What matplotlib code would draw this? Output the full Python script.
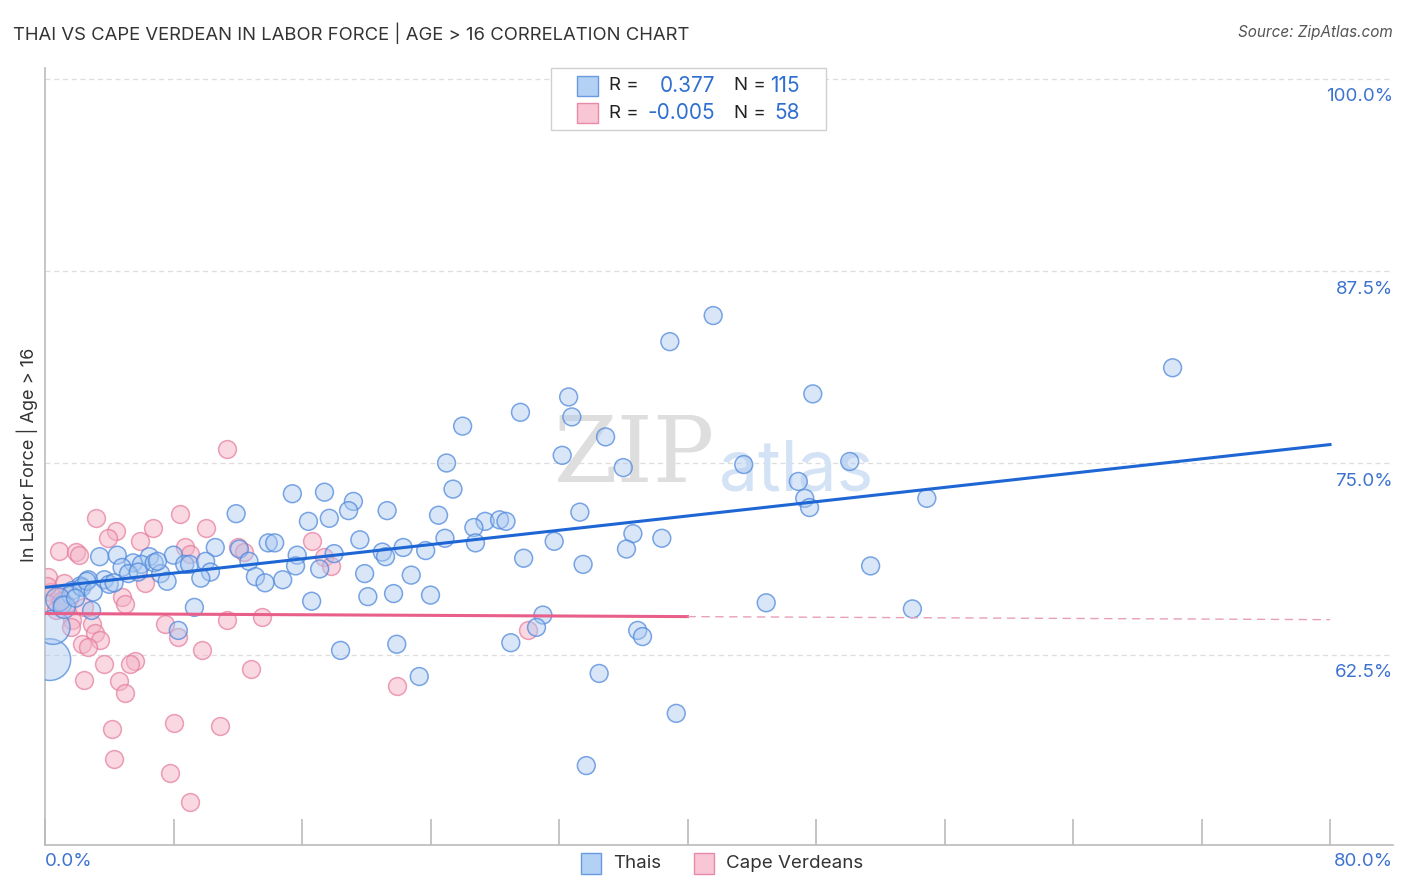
import numpy as np
import matplotlib
matplotlib.use("Agg")
import matplotlib.pyplot as plt
from matplotlib.patches import Rectangle
from matplotlib import transforms
from matplotlib.colors import to_rgba

plt.rcParams['font.family'] = ['Inter', 'DejaVu Sans']

# Thais (x = % , y = in labor force %)
thai_x = [41.6, 38.9, 70.2, 47.8, 32.6, 29.6, 32.8, 26.0, 34.9, 32.2, 25.0, 36.0, 43.5, 50.1,
          25.4, 46.9, 15.4, 17.4, 19.2, 47.3, 54.9, 18.9, 47.6, 11.9, 21.3, 33.3, 24.5, 16.4,
          17.7, 27.4, 28.3, 28.7, 26.7, 36.6, 38.4, 24.9, 26.8, 31.7, 13.9, 14.3, 19.6, 10.6,
          12.1, 36.2, 22.3, 21.0, 23.7, 18.0, 3.4, 4.5, 8.0, 6.5, 21.2, 15.7, 29.8, 5.5, 6.0,
          6.8, 8.7, 9.0, 10.0, 12.7, 4.8, 33.5, 51.4, 15.6, 17.1, 10.3, 7.2, 5.2, 13.1, 19.9,
          9.7, 22.8, 3.7, 2.7, 7.6, 14.8, 13.7, 4.0, 2.2, 1.7, 21.7, 20.1, 24.0, 16.6, 44.9,
          9.3, 54.0, 31.0, 2.9, 1.1, 8.3, 30.6, 36.9, 37.2, 21.9, 29.0, 18.4, 23.3, 34.5, 39.3,
          33.7, 0.3, 0.5, 1.6, 2.3, 2.6, 0.8, 1.2, 3.0, 4.3, 5.8, 7.0, 1.9]
thai_y = [84.6, 82.9, 81.2, 79.5, 79.3, 78.3, 78.0, 77.4, 76.7, 75.5, 75.0, 74.7, 74.9, 75.1,
          73.3, 73.8, 73.0, 73.1, 72.5, 72.7, 72.7, 71.9, 72.1, 71.7, 71.9, 71.8, 71.6, 71.2,
          71.4, 71.2, 71.3, 71.2, 70.8, 70.4, 70.1, 70.1, 69.8, 69.9, 69.8, 69.8, 70.0, 69.5,
          69.4, 69.4, 69.5, 69.2, 69.3, 69.1, 68.9, 69.0, 69.0, 68.9, 68.9, 69.0, 68.8, 68.5, 68.4,
          68.5, 68.4, 68.4, 68.6, 68.6, 68.2, 68.4, 68.3, 68.3, 68.1, 67.9, 67.8, 67.8, 67.6, 67.8,
          67.5, 67.7, 67.4, 67.4, 67.3, 67.4, 67.2, 67.1, 67.0, 66.7, 66.5, 66.3, 66.4, 66.0, 65.9,
          65.6, 65.5, 65.1, 65.4, 65.8, 64.1, 64.3, 64.1, 63.7, 63.2, 63.3, 62.8, 61.1, 61.3, 58.7,
          55.3, 62.2, 64.3, 66.4, 66.9, 67.3, 66.1, 65.6, 66.6, 67.2, 67.9, 68.6, 66.2]
# a few larger bubbles near the left edge: (x, y) -> marker area
thai_big = {(0.3, 62.2): 900, (0.5, 64.3): 600, (0.8, 66.1): 300, (1.2, 65.6): 250}
thai_s = [thai_big.get((x, y), 165) for x, y in zip(thai_x, thai_y)]

# Cape Verdeans
cv_x = [11.3, 3.2, 8.4, 6.7, 4.4, 10.0, 3.9, 5.9, 0.9, 1.9, 2.1, 8.7, 9.0, 12.0, 16.6, 17.4,
        17.8, 0.2, 1.2, 6.2, 0.3, 0.9, 4.8, 5.0, 0.2, 0.7, 1.3, 1.7, 2.4, 2.9, 1.6, 7.5, 8.3,
        11.3, 13.5, 3.1, 3.4, 2.3, 2.7, 9.8, 5.6, 5.3, 3.7, 12.8, 2.4, 4.6, 5.0, 21.9, 30.1,
        8.0, 4.2, 10.9, 4.3, 7.8, 9.0, 0.1, 12.4, 1.0]
cv_y = [75.9, 71.4, 71.7, 70.8, 70.6, 70.8, 70.1, 69.9, 69.3, 69.2, 69.0, 69.5, 69.1, 69.5, 69.9, 68.9,
        68.3, 67.6, 67.2, 67.2, 66.6, 66.3, 66.3, 65.8, 65.8, 65.4, 65.8, 64.8, 65.6, 64.5, 64.3, 64.5, 63.7,
        64.8, 65.0, 63.9, 63.5, 63.2, 63.0, 62.8, 62.1, 61.9, 61.9, 61.6, 60.9, 60.8, 60.0, 60.5, 64.1,
        58.1, 57.7, 57.9, 55.7, 54.8, 52.9, 67.0, 69.2, 66.0]

# trend lines (value at 0%, value at 80%)
thai_trend = [66.9, 76.2]
cv_trend = [65.2, 64.8]
cv_solid_end = 40.0

yticks = [62.5, 75.0, 87.5, 100.0]
xticks = np.arange(0, 81, 8)

W, H = 1406, 892
fig = plt.figure(figsize=(W / 100, H / 100), dpi=100)
ax = fig.add_axes([45 / W, 1 - 845 / H, (1393 - 45) / W, (845 - 68) / H])

x_max = (1393 - 45) / 1285 * 80
y_lo = 62.5 - (845 - 655) / 192 * 12.5
y_hi = 100 + (79 - 68) / 192 * 12.5
ax.set_xlim(0, x_max)
ax.set_ylim(y_lo, y_hi)

for spine in ['top', 'right']:
    ax.spines[spine].set_visible(False)
ax.spines['left'].set_color('#bbbbbb')
ax.spines['bottom'].set_color('#bbbbbb')
ax.spines['left'].set_linewidth(1.2)
ax.spines['bottom'].set_linewidth(1.2)

for yv in yticks:
    ax.axhline(yv, color='#dddddd', lw=0.9, ls=(0, (4, 3)), zorder=0)

ax.set_xticks(xticks)
ax.set_xticklabels([])
ax.tick_params(axis='x', direction='in', length=19, color='#bbbbbb', width=1.2)
ax.set_yticks([])

# watermark
ax.text(0.497, 0.5, 'ZIP', transform=ax.transAxes, fontsize=66, family='DejaVu Serif',
        color='#dedede', ha='right', va='center', zorder=0)
ax.text(0.5, 0.48, 'atlas', transform=ax.transAxes, fontsize=50,
        color='#d3e2f5', ha='left', va='center', zorder=0)

ax.scatter(cv_x, cv_y, s=165, facecolor=to_rgba('#f5b3c6', 0.5), edgecolor=to_rgba('#e57a9c', 0.7),
           lw=1.1, zorder=2)
ax.scatter(thai_x, thai_y, s=thai_s, facecolor=to_rgba('#a9c9f1', 0.45), edgecolor=to_rgba('#5089dc', 0.75),
           lw=1.1, zorder=3)

ax.plot([0, 80], thai_trend, color='#1d66d4', lw=2.2, zorder=4)
cv_mid = cv_trend[0] + (cv_trend[1] - cv_trend[0]) * cv_solid_end / 80
ax.plot([0, cv_solid_end], [cv_trend[0], cv_mid], color='#e8608a', lw=2.2, zorder=4)
ax.plot([cv_solid_end, 80], [cv_mid, cv_trend[1]], color='#e8a0b8', lw=1.0, ls=(0, (6, 4)), zorder=4)

# right tick labels
trans = transforms.blended_transform_factory(fig.transFigure, ax.transData)
for yv in yticks:
    t = ax.text(1393 / W, yv, f'{yv:.1f}%', transform=trans, ha='right', va='center',
                fontsize=13.5, color='#3d72d0')
    t.set_transform(trans + transforms.ScaledTranslation(0, -18 / 100, fig.dpi_scale_trans))

fig.text(45 / W, 1 - 862 / H, '0.0%', ha='left', va='center', fontsize=13.5, color='#3d72d0')
fig.text(1393 / W, 1 - 862 / H, '80.0%', ha='right', va='center', fontsize=13.5, color='#3d72d0')

fig.text(13 / W, 1 - 33 / H, 'THAI VS CAPE VERDEAN IN LABOR FORCE | AGE > 16 CORRELATION CHART',
         ha='left', va='center', fontsize=13.3, color='#333333')
fig.text(1393 / W, 1 - 33 / H, 'Source: ZipAtlas.com', ha='right', va='center', fontsize=11,
         color='#555555', style='italic')
fig.text(27 / W, 1 - 455 / H, 'In Labor Force | Age > 16', rotation=90, ha='center', va='center',
         fontsize=13, color='#333333')

# top legend
fig.patches.append(Rectangle((551 / W, 1 - 130 / H), 275 / W, 62 / H, transform=fig.transFigure,
                             facecolor='white', edgecolor='#d0d0d0', lw=1.0, zorder=5))
rows = [('#b3d0f5', '#6a9ae0', '0.377', '115', 86), ('#f8c6d5', '#e88aa8', '-0.005', '58', 113)]
for fc, ec, r, n, py in rows:
    fig.patches.append(Rectangle((577 / W, 1 - (py + 10) / H), 21 / W, 20 / H, transform=fig.transFigure,
                                 facecolor=fc, edgecolor=ec, lw=1.0, zorder=6))
    fig.text(609 / W, 1 - py / H, 'R =', ha='left', va='center', fontsize=13.5, color='#222222', zorder=7)
    fig.text(715 / W, 1 - py / H, r, ha='right', va='center', fontsize=15, color='#2f6fd0', zorder=7)
    fig.text(734 / W, 1 - py / H, 'N =', ha='left', va='center', fontsize=13.5, color='#222222', zorder=7)
    fig.text(800 / W, 1 - py / H, n, ha='right', va='center', fontsize=15, color='#2f6fd0', zorder=7)

# bottom legend
for fc, ec, label, px in [('#b3d0f5', '#6a9ae0', 'Thais', 581), ('#f8c6d5', '#e88aa8', 'Cape Verdeans', 694)]:
    fig.patches.append(Rectangle((px / W, 1 - 874 / H), 20 / W, 21 / H, transform=fig.transFigure,
                                 facecolor=fc, edgecolor=ec, lw=1.0))
    fig.text((px + 32) / W, 1 - 864 / H, label, ha='left', va='center', fontsize=13.5, color='#333333')

fig.savefig('out.png', dpi=100)
